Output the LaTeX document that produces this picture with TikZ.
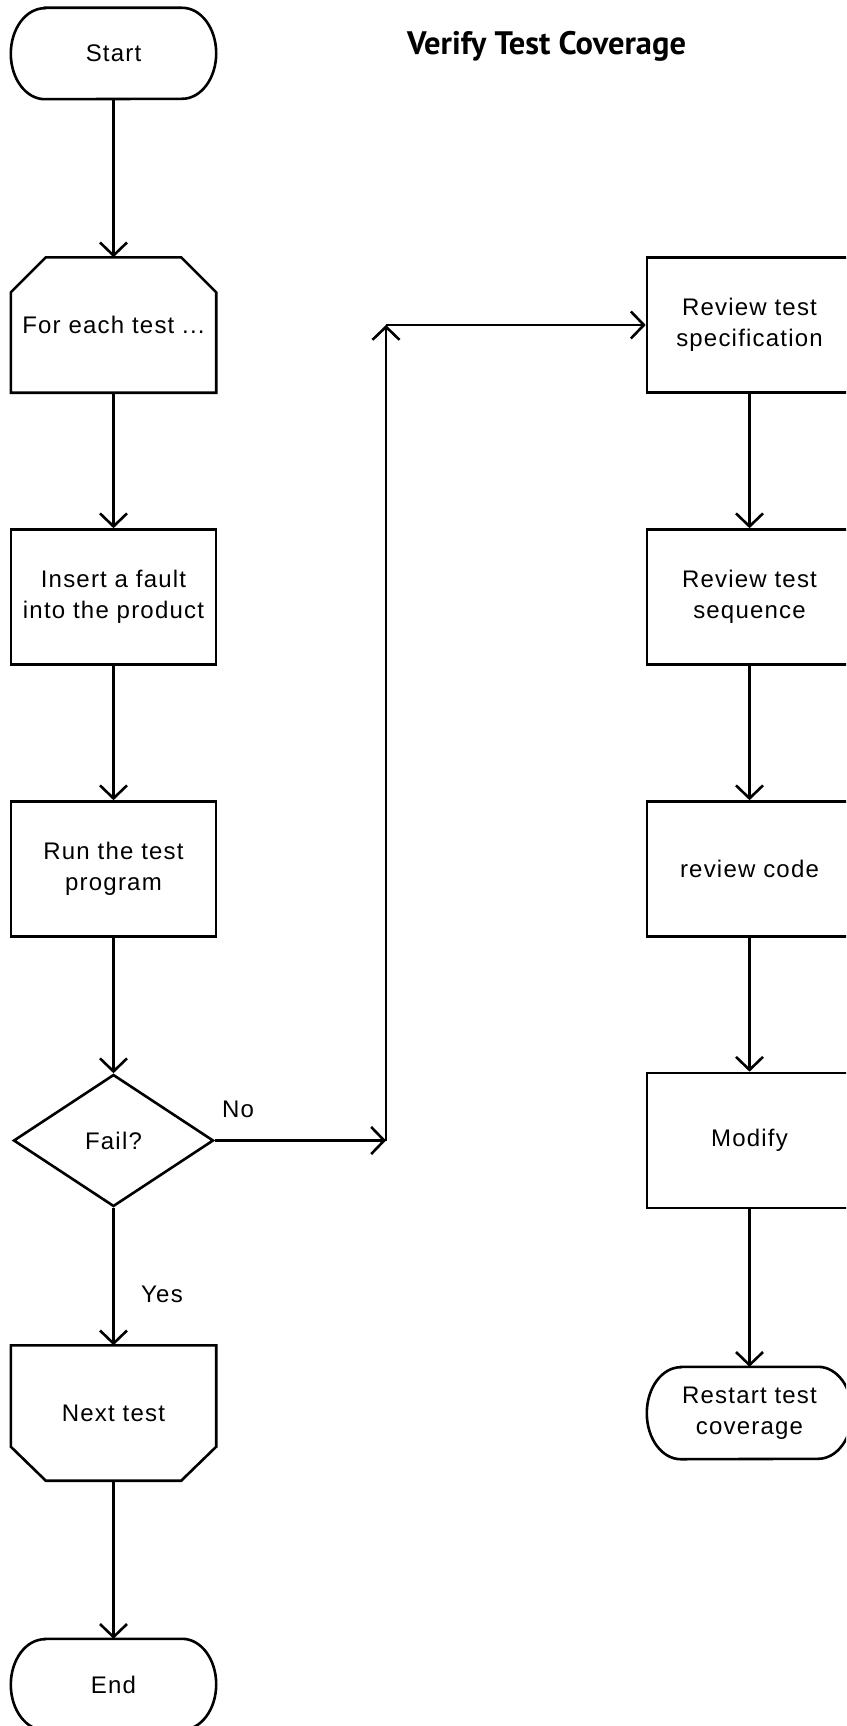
\documentclass[tikz,border=0pt]{standalone}
\usepackage{fontspec}
\setmainfont[LetterSpace=5]{Liberation Sans}
\newfontfamily\titlefont{PT Sans}
\usetikzlibrary{arrows.meta,shapes.geometric}

\newcommand\labelsize{\fontsize{24pt}{31pt}\selectfont}

% outline of a terminal (start/end) node: flat top and bottom, elliptic ends
\newcommand\terminaloutline[2]{%
  \draw[outline] ([xshift=34pt]#1.north west) -- ([xshift=-34pt]#1.north east)
    arc[start angle=90,end angle=-90,x radius=34pt,y radius=#2]
    -- ([xshift=34pt]#1.south west)
    arc[start angle=270,end angle=90,x radius=34pt,y radius=#2] -- cycle;}

\begin{document}
\begin{tikzpicture}[x=1pt,y=-1pt,
  outline/.style={line width=2.6pt},
  flow/.style={line width=2.6pt,-{Straight Barb[length=13pt,width=27pt,line width=2.6pt]}},
  box/.style={rectangle,draw,outline,minimum width=205pt,minimum height=135pt,
    inner sep=0pt,align=center,font=\labelsize},
  shell/.style={rectangle,minimum width=205pt,minimum height=135pt,
    inner sep=0pt,align=center,font=\labelsize},
  terminal/.style={rectangle,minimum width=205pt,minimum height=91pt,
    inner sep=0pt,align=center,font=\labelsize},
  decision/.style={diamond,draw,outline,minimum width=200pt,minimum height=132pt,
    inner sep=0pt,font=\labelsize},
  tag/.style={inner sep=0pt,font=\labelsize}]

\useasboundingbox (0,0) rectangle (846,1726);
\clip (0,0) rectangle (846,1726);

\node[anchor=base,inner sep=0pt,font=\titlefont\bfseries\fontsize{32.5pt}{36pt}\selectfont]
  (title) at (546.5,55) {Verify Test Coverage};

% left column
\node[terminal] (start) at (113.5,53.5) {Start};
\terminaloutline{start}{45.5pt}
\node[shell] (each) at (113.5,325) {For each test ...};
\draw[outline] ([xshift=35pt]each.north west) -- ([xshift=-35pt]each.north east)
  -- ([yshift=-35pt]each.north east) -- (each.south east) -- (each.south west)
  -- ([yshift=-35pt]each.north west) -- cycle;
\node[box] (insert) at (113.5,597) {Insert a fault\\into the product};
\node[box] (run) at (113.5,869) {Run the test\\program};
\node[decision] (fail) at (113.5,1140.5) {Fail?};
\node[shell] (next) at (113.5,1413) {Next test};
\draw[outline] (next.north west) -- (next.north east) -- ([yshift=34pt]next.south east)
  -- ([xshift=-35pt]next.south east) -- ([xshift=35pt]next.south west)
  -- ([yshift=34pt]next.south west) -- cycle;
\node[terminal] (end) at (113.5,1684.5) {End};
\terminaloutline{end}{45.5pt}

% right column
\node[box] (spec) at (749.5,325) {Review test\\specification};
\node[box] (seq) at (749.5,597) {Review test\\sequence};
\node[box] (code) at (749.5,869) {review code};
\node[box] (modify) at (749.5,1140.5) {Modify};
\node[terminal,minimum height=92pt] (restart) at (749.5,1413) {Restart test\\coverage};
\terminaloutline{restart}{46pt}

% branch route from the decision to the review column
\coordinate (turn) at (386,1140.5);
\coordinate (rise) at (386,325);

\node[tag] (no) at (238,1109) {No};
\node[tag] (yes) at (162,1294) {Yes};

% connectors
\draw[flow] (start) -- (each);
\draw[flow] (each) -- (insert);
\draw[flow] (insert) -- (run);
\draw[flow] (run) -- (fail);
\draw[flow] (fail) -- (next);
\draw[flow] (next) -- (end);
\draw[flow] (fail.east) -- (turn);
\draw[flow] (turn) -- (rise);
\draw[flow] (rise) -- (spec.west);
\draw[flow] (spec) -- (seq);
\draw[flow] (seq) -- (code);
\draw[flow] (code) -- (modify);
\draw[flow] (modify) -- (restart);
\end{tikzpicture}
\end{document}
